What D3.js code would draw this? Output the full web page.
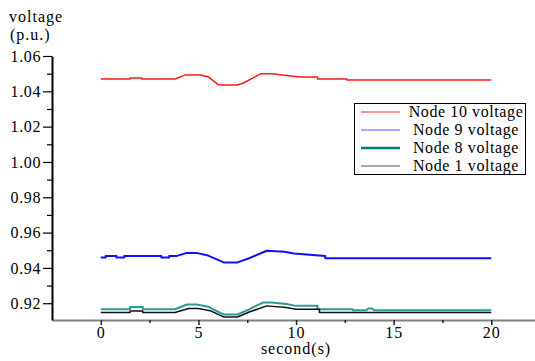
<!DOCTYPE html>
<html>
<head>
<meta charset="utf-8">
<script src="https://cdn.jsdelivr.net/npm/d3@7"></script>
<style>
  body { margin: 0; background: #fff; }
  svg { display: block; }
</style>
</head>
<body>
<svg id="chart"></svg>
<script>
// series data (time in s, voltage in p.u.)
const node10Time = [0, 1.5, 1.5, 2.1, 2.1, 3.8, 4.0, 4.3, 5.1, 5.5, 6.0, 6.2, 7.0, 7.3, 7.8, 8.2, 8.8, 9.5, 10.2, 11.1, 11.1, 12.6, 12.6, 20];
const node10Volt = [1.0470, 1.0470, 1.0476, 1.0476, 1.0470, 1.0470, 1.0478, 1.0492, 1.0492, 1.0482, 1.0439, 1.0436, 1.0436, 1.0447, 1.0476, 1.0500, 1.0500, 1.0490, 1.0481, 1.0481, 1.0470, 1.0470, 1.0464, 1.0464];

const node9Time = [0, 0.25, 0.25, 0.8, 0.8, 1.2, 1.2, 3.1, 3.1, 3.5, 3.5, 3.9, 4.4, 4.9, 5.5, 6.3, 7.0, 7.6, 8.5, 9.4, 9.9, 10.7, 11.5, 11.5, 20];
const node9Volt = [0.9459, 0.9459, 0.9468, 0.9468, 0.9459, 0.9459, 0.9468, 0.9468, 0.9459, 0.9459, 0.9468, 0.9468, 0.9485, 0.9485, 0.9470, 0.9431, 0.9431, 0.9455, 0.9497, 0.9492, 0.9482, 0.9475, 0.9467, 0.9455, 0.9455];

const node8Time = [0, 1.5, 1.5, 2.15, 2.15, 3.8, 4.4, 4.9, 5.5, 6.3, 7.0, 7.6, 8.3, 8.75, 9.5, 10.0, 11.1, 11.1, 12.9, 12.9, 13.6, 13.7, 13.9, 14.0, 20];
const node8Volt = [0.9166, 0.9166, 0.9179, 0.9179, 0.9166, 0.9166, 0.9193, 0.9193, 0.9180, 0.9136, 0.9136, 0.9165, 0.9204, 0.9204, 0.9196, 0.9185, 0.9185, 0.9166, 0.9166, 0.9160, 0.9160, 0.9170, 0.9170, 0.9160, 0.9160];

const node1Time = [0, 1.5, 1.5, 2.15, 2.15, 3.8, 4.5, 5.0, 5.6, 6.3, 7.0, 7.6, 8.5, 9.5, 10.0, 11.2, 11.2, 20];
const node1Volt = [0.9147, 0.9147, 0.9156, 0.9156, 0.9147, 0.9147, 0.9170, 0.9170, 0.9158, 0.9122, 0.9122, 0.9150, 0.9185, 0.9176, 0.9166, 0.9166, 0.9147, 0.9147];

const seriesNames = ['Node 10 voltage', 'Node 9 voltage', 'Node 8 voltage', 'Node 1 voltage'];
const xTicks = [0, 5, 10, 15, 20];
const xMinorTicks = [2.5, 7.5, 12.5, 17.5];
const yTicks = [0.92, 0.94, 0.96, 0.98, 1.00, 1.02, 1.04, 1.06];
const yMinorTicks = [0.93, 0.95, 0.97, 0.99, 1.01, 1.03, 1.05];

var width = 535,
    height = 361,
    serif = 'Liberation Serif',
    fontSize = 16,
    lineColors = ['#ff1a1a', '#1010ff', '#2a9a9a', '#111'],
    lineWidths = [1.5, 2, 2, 1.5],
    legendColors = ['#ff3030', '#5a5aff', '#007878', '#555'],
    legendWidths = [1.2, 1.2, 2.4, 1.2];

const toPoints = (ts, vs) => ts.map((t, i) => [t, vs[i]]);
var series = [
    toPoints(node10Time, node10Volt),
    toPoints(node9Time, node9Volt),
    toPoints(node8Time, node8Volt),
    toPoints(node1Time, node1Volt)
];

var svg = d3.select('#chart')
    .attr('width', width)
    .attr('height', height)
    .attr('font-family', serif);

const x = d3.scaleLinear().domain([-2.5, 22.24]).range([52, 535]);
const y = d3.scaleLinear().domain([0.9105, 1.06]).range([320, 56]);

// x axis (grey line, small ticks)
var xAxis = svg.append('g')
    .attr('transform', 'translate(0,320)')
    .call(d3.axisBottom(x).tickValues(xTicks).tickSize(5).tickSizeOuter(0).tickFormat(d3.format('d')))
    .attr('font-family', serif);
xAxis.select('.domain').attr('stroke', '#808080').attr('stroke-width', 2);
xAxis.selectAll('.tick line').attr('stroke', '#222').attr('stroke-width', 1.5);
xAxis.selectAll('.tick text')
    .attr('y', 7)
    .attr('font-size', fontSize)
    .attr('letter-spacing', 1)
    .attr('fill', '#000');

svg.append('g')
    .attr('transform', 'translate(0,320)')
    .call(d3.axisBottom(x).tickValues(xMinorTicks).tickSize(3).tickFormat(''))
    .call(g => g.select('.domain').remove())
    .selectAll('.tick line').attr('stroke', '#222').attr('stroke-width', 1.5);

// y axis (black)
var yAxis = svg.append('g')
    .attr('transform', 'translate(52,0)')
    .call(d3.axisLeft(y).tickValues(yTicks).tickSize(9).tickSizeOuter(0).tickFormat(d3.format('.2f')))
    .attr('font-family', serif);
yAxis.select('.domain').attr('stroke', '#000').attr('stroke-width', 2);
yAxis.selectAll('.tick line').attr('stroke', '#000').attr('stroke-width', 1.2);
yAxis.selectAll('.tick text')
    .attr('x', -11)
    .attr('font-size', fontSize)
    .attr('letter-spacing', 0.6)
    .attr('fill', '#000');

svg.append('g')
    .attr('transform', 'translate(52,0)')
    .call(d3.axisLeft(y).tickValues(yMinorTicks).tickSize(5).tickFormat(''))
    .call(g => g.select('.domain').remove())
    .selectAll('.tick line').attr('stroke', '#000').attr('stroke-width', 1.2);

// axis titles
svg.append('text')
    .attr('x', 9).attr('y', 22)
    .attr('font-size', fontSize).attr('letter-spacing', 1)
    .text('voltage');
svg.append('text')
    .attr('x', 10).attr('y', 40)
    .attr('font-size', fontSize).attr('letter-spacing', 1)
    .text('(p.u.)');
svg.append('text')
    .attr('x', x(10)).attr('y', 354)
    .attr('text-anchor', 'middle')
    .attr('font-size', fontSize).attr('letter-spacing', 1)
    .text('second(s)');

// lines
var line = d3.line()
    .x(d => x(d[0]))
    .y(d => y(d[1]));

series.forEach(function (s, i) {
    svg.append('path')
        .datum(s)
        .attr('fill', 'none')
        .attr('stroke', lineColors[i])
        .attr('stroke-width', lineWidths[i])
        .attr('stroke-linejoin', 'round')
        .attr('d', line);
});

// legend
var legend = svg.append('g');
legend.append('rect')
    .attr('x', 354.5).attr('y', 103.5)
    .attr('width', 171).attr('height', 71)
    .attr('fill', '#fff')
    .attr('stroke', '#000')
    .attr('stroke-width', 1);

seriesNames.forEach(function (name, i) {
    var ly = 112 + i * 18;
    legend.append('line')
        .attr('x1', 361).attr('x2', 400)
        .attr('y1', ly).attr('y2', ly)
        .attr('stroke', legendColors[i])
        .attr('stroke-width', legendWidths[i]);
    legend.append('text')
        .attr('x', 466).attr('y', ly + 5)
        .attr('text-anchor', 'middle')
        .attr('font-size', fontSize).attr('letter-spacing', 0.6)
        .text(name);
});
</script>
</body>
</html>
